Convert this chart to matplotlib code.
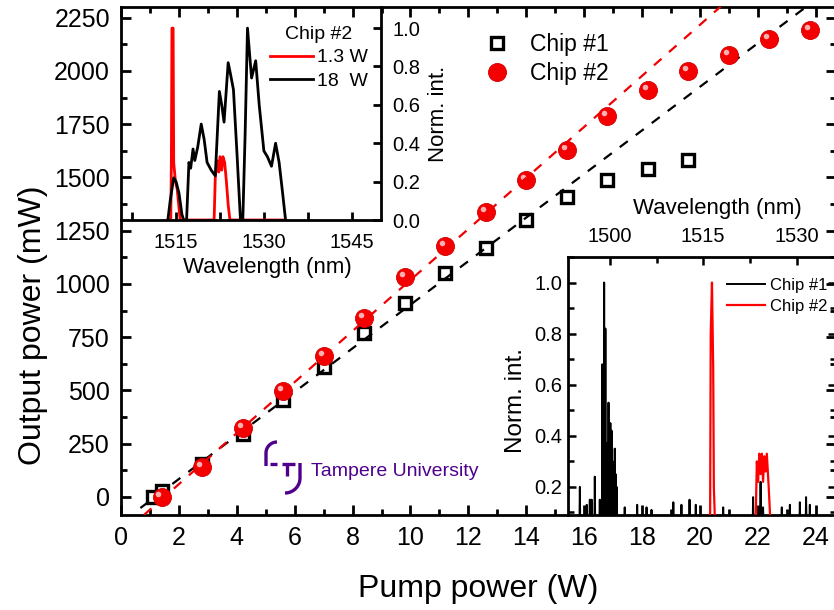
import numpy as np
import matplotlib
matplotlib.use("Agg")
import matplotlib.pyplot as plt
from matplotlib.ticker import MultipleLocator, FormatStrFormatter
from matplotlib.lines import Line2D
from matplotlib.transforms import offset_copy

plt.rcParams['font.family'] = ['Liberation Sans', 'DejaVu Sans']

# main plot: output power vs pump power
pump_1 = [1.1, 1.4, 2.8, 4.2, 5.6, 7.0, 8.4, 9.8, 11.2, 12.6, 14.0, 15.4, 16.8, 18.2, 19.6]
power_1 = [0, 30, 155, 295, 455, 612, 769, 912, 1053, 1168, 1301, 1410, 1489, 1539, 1583]
pump_2 = [1.4, 2.8, 4.2, 5.6, 7.0, 8.4, 9.8, 11.2, 12.6, 14.0, 15.4, 16.8, 18.2, 19.6, 21.0, 22.4, 23.8]
power_2 = [0, 142, 323, 495, 662, 839, 1033, 1179, 1337, 1489, 1627, 1790, 1912, 2001, 2076, 2151, 2190]

# linear fits (slope mW/W, threshold W, start of drawn line W)
fit_slope = [102.3, 119.8]
fit_threshold = [1.18, 1.50]
fit_start = [0.67, 0.79]

# top-left inset: chip #2 spectra at two pump powers
spec_13W_nm = [1513.6, 1514.1, 1514.2, 1514.3, 1514.5, 1514.6, 1514.9, 1515.2, 1515.7,
               1521.5, 1521.7, 1522.0, 1522.3, 1522.5, 1522.8, 1523.0, 1523.3, 1523.6,
               1523.9, 1524.2, 1533.7]
spec_13W_int = [0, 0, 0.30, 1.00, 1.00, 0.30, 0.20, 0.16, 0,
                0, 0.22, 0.31, 0.25, 0.33, 0.26, 0.33, 0.30, 0.20,
                0.08, 0, 0]
spec_18W_nm = [1513.6, 1514.0, 1514.6, 1515.0, 1515.5, 1516.0, 1516.3, 1516.8, 1517.2,
               1517.5, 1517.9, 1518.2, 1518.7, 1519.3, 1519.8, 1520.3, 1521.0, 1521.7,
               1522.4, 1522.8, 1523.2, 1523.9, 1524.3, 1524.8, 1525.4, 1526.0, 1526.4,
               1526.8, 1527.2, 1527.6, 1527.9, 1528.6, 1529.2, 1530.0, 1530.6, 1531.3,
               1532.0, 1532.6, 1533.2, 1533.7]
spec_18W_int = [0, 0.10, 0.22, 0.20, 0.14, 0.03, 0, 0, 0.30,
                0.27, 0.37, 0.31, 0.38, 0.50, 0.42, 0.30, 0.26, 0.23,
                0.67, 0.60, 0.51, 0.82, 0.76, 0.68, 0.35, 0, 0,
                0.45, 1.00, 0.85, 0.74, 0.83, 0.60, 0.36, 0.33, 0.28,
                0.40, 0.30, 0.14, 0]

# bottom-right inset: spectra of both chips
chip1_nm = [1495.2, 1496.3, 1496.8, 1497.1, 1497.6, 1498.4, 1498.8, 1498.95, 1499.1, 1499.3,
            1499.5, 1499.65, 1499.8, 1500.0, 1500.1, 1500.3, 1500.45, 1500.6, 1500.8, 1500.95,
            1501.1, 1502.4, 1504.4, 1505.9, 1506.7, 1510.2, 1511.5, 1512.8, 1513.8, 1518.2,
            1523.0, 1524.2, 1524.6, 1527.6, 1528.9, 1530.5, 1531.5, 1532.1]
chip1_int = [0.20, 0.13, 0.15, 0.15, 0.24, 0.15, 0.68, 0.35, 1.00, 0.82,
             0.37, 0.33, 0.53, 0.33, 0.45, 0.42, 0.30, 0.27, 0.35, 0.25,
             0.20, 0.12, 0.13, 0.12, 0.11, 0.14, 0.13, 0.15, 0.13, 0.12,
             0.16, 0.22, 0.12, 0.12, 0.13, 0.14, 0.16, 0.13]
chip1_floor = 0.07
chip2_nm = [1515.9, 1516.1, 1516.2, 1516.4, 1516.6, 1516.7, 1516.9, 1523.4, 1523.6, 1523.8,
            1524.0, 1524.2, 1524.4, 1524.6, 1524.8, 1525.0, 1525.2, 1525.5, 1525.8]
chip2_int = [0.05, 0.05, 0.80, 1.00, 0.66, 0.20, 0.05, 0.05, 0.30, 0.22,
             0.33, 0.25, 0.33, 0.22, 0.32, 0.26, 0.33, 0.20, 0.05]

W, H = 834, 610


def fx(px):
    return px / W


def fy(py):
    return 1 - py / H


fig = plt.figure(figsize=(W / 100, H / 100), dpi=100)

# ---------------- main axes ----------------
ax = fig.add_axes([fx(121), fy(515), fx(836) - fx(121), fy(7) - fy(515)])
ax.set_xlim(0, 24.7)
ax.set_ylim(-85, 2300)

ax.plot(pump_1, power_1, 's', ms=9, mfc='white', mec='black', mew=2.4, zorder=3, label='Chip #1')
for k, col in enumerate(['black']):
    xs = np.array([fit_start[0], 24.7])
    ax.plot(xs, fit_slope[0] * (xs - fit_threshold[0]), color=col, lw=1.6,
            ls=(0, (4.5, 4.5)), zorder=4)
ax.plot(pump_2, power_2, 'o', ms=13, color='#f50000', mec='#d40000', mew=0.6, zorder=5, label='Chip #2')
hl = offset_copy(ax.transData, fig=fig, x=-2.2, y=2.2, units='points')
ax.plot(pump_2, power_2, 'o', ms=4, color='#ffc4c4', mew=0, alpha=0.9, transform=hl, zorder=6)
xs = np.array([fit_start[1], 24.7])
ax.plot(xs, fit_slope[1] * (xs - fit_threshold[1]), color='#f00000', lw=1.6,
        ls=(0, (4.5, 4.5)), zorder=7)

ax.xaxis.set_major_locator(MultipleLocator(2))
ax.xaxis.set_minor_locator(MultipleLocator(1))
ax.yaxis.set_major_locator(MultipleLocator(250))
ax.yaxis.set_minor_locator(MultipleLocator(125))
ax.tick_params(which='both', direction='in', top=True, right=True, width=2, labelsize=18, pad=8)
ax.tick_params(which='major', length=7)
ax.tick_params(which='minor', length=4)
for s in ax.spines.values():
    s.set_linewidth(2)

ax.set_xlabel('Pump power (W)', fontsize=23)
ax.xaxis.set_label_coords(0.5, -0.116)
ax.set_ylabel('Output power (mW)', fontsize=23)
ax.yaxis.set_label_coords(-0.102, 0.374)

ax.legend(loc='upper left', bbox_to_anchor=(fx(481), fy(33)), bbox_transform=fig.transFigure,
          frameon=False, fontsize=16.5, handlelength=1.4, handletextpad=0.75,
          labelspacing=0.25, borderpad=0, borderaxespad=0)

# ---------------- inset 1 (top left) ----------------
ax1 = fig.add_axes([fx(121), fy(220), fx(381) - fx(121), fy(7) - fy(220)], facecolor='none')
ax1.plot(spec_13W_nm, spec_13W_int, color='#ff0000', lw=2, label='1.3 W')
ax1.plot(spec_18W_nm, spec_18W_int, color='black', lw=2, label='18  W')
ax1.set_xlim(1505.6, 1550)
ax1.set_ylim(0, 1.11)
ax1.xaxis.set_major_locator(MultipleLocator(15))
ax1.xaxis.set_minor_locator(MultipleLocator(7.5))
ax1.yaxis.set_major_locator(MultipleLocator(0.2))
ax1.yaxis.set_major_formatter(FormatStrFormatter('%.1f'))
ax1.yaxis.tick_right()
ax1.yaxis.set_label_position('right')
ax1.tick_params(which='both', direction='in', width=2, length=6, labelsize=14.5,
                top=False, left=False, right=True, bottom=True)
ax1.tick_params(axis='x', pad=9)
ax1.tick_params(axis='y', pad=8)
ax1.spines['top'].set_visible(False)
ax1.spines['left'].set_visible(False)
ax1.spines['right'].set_linewidth(2)
ax1.spines['bottom'].set_linewidth(2)
ax1.set_xlabel('Wavelength (nm)', fontsize=16)
ax1.xaxis.set_label_coords(0.5615, -0.174)
ax1.set_ylabel('Norm. int.', fontsize=16)
ax1.yaxis.set_label_coords(1.181, 0.5)
ax1.legend(loc='upper left', bbox_to_anchor=(fx(270), fy(26)), bbox_transform=fig.transFigure,
           title='Chip #2', title_fontsize=14, fontsize=14, frameon=False,
           handlelength=2.2, handletextpad=0.2, labelspacing=0.3, borderpad=0, borderaxespad=0)

# ---------------- inset 2 (bottom right) ----------------
ax2 = fig.add_axes([fx(568), fy(515), fx(836) - fx(568), fy(257) - fy(515)], facecolor='none')
c1x, c1y = [], []
for w, v in zip(chip1_nm, chip1_int):
    c1x += [w - 0.06, w, w + 0.06]
    c1y += [chip1_floor, v, chip1_floor]
ax2.plot([1493.3] + c1x + [1536.3], [chip1_floor] + c1y + [chip1_floor],
         color='black', lw=1.4, label='Chip #1')
ax2.plot(chip2_nm, chip2_int, color='#ff0000', lw=1.6, label='Chip #2')
ax2.set_xlim(1493.3, 1536.3)
ax2.set_ylim(0.09, 1.10)
ax2.xaxis.set_major_locator(MultipleLocator(15))
ax2.xaxis.set_minor_locator(MultipleLocator(7.5))
ax2.yaxis.set_major_locator(MultipleLocator(0.2))
ax2.yaxis.set_minor_locator(MultipleLocator(0.1))
ax2.yaxis.set_major_formatter(FormatStrFormatter('%.1f'))
ax2.xaxis.tick_top()
ax2.xaxis.set_label_position('top')
ax2.tick_params(which='both', direction='in', width=1.8, labelsize=14.5,
                top=True, bottom=False, left=True, right=True)
ax2.tick_params(which='major', length=6)
ax2.tick_params(which='minor', length=4)
ax2.tick_params(axis='x', pad=8)
ax2.tick_params(axis='y', pad=4)
ax2.spines['bottom'].set_visible(False)
ax2.spines['top'].set_linewidth(2)
ax2.spines['left'].set_linewidth(2)
ax2.spines['right'].set_linewidth(2)
ax2.set_xlabel('Wavelength (nm)', fontsize=16)
ax2.xaxis.set_label_coords(0.558, 1.167)
ax2.set_ylabel('Norm. int.', fontsize=17.5)
ax2.yaxis.set_label_coords(-0.153, 0.444)
ax2.legend(loc='upper left', bbox_to_anchor=(fx(727), fy(278)), bbox_transform=fig.transFigure,
           fontsize=12, frameon=False, handlelength=2.3, handletextpad=0.3,
           labelspacing=0.33, borderpad=0, borderaxespad=0)

# ---------------- university logo ----------------
purple = '#4e008e'


def logo_line(xp, yp):
    fig.add_artist(Line2D([fx(p) for p in xp], [fy(p) for p in yp], color=purple, lw=2.4,
                          transform=fig.transFigure, solid_capstyle='butt'))


t = np.linspace(np.pi / 2, np.pi, 20)
logo_line(list(277 + 11 * np.cos(t)) + [266], list(453 - 11 * np.sin(t)) + [466])
logo_line([269.5, 276.5], [463.5, 463.5])
logo_line([281.5, 295], [463.5, 463.5])
logo_line([286.5, 286.5], [463.5, 476])
t = np.linspace(0, -np.pi / 2, 20)
logo_line([300] + list(285 + 15 * np.cos(t)), [463] + list(478 - 15 * np.sin(t)))
fig.text(fx(311), fy(472), 'Tampere University', color=purple, fontsize=14,
         ha='left', va='center')

fig.savefig('out.png', dpi=100)
